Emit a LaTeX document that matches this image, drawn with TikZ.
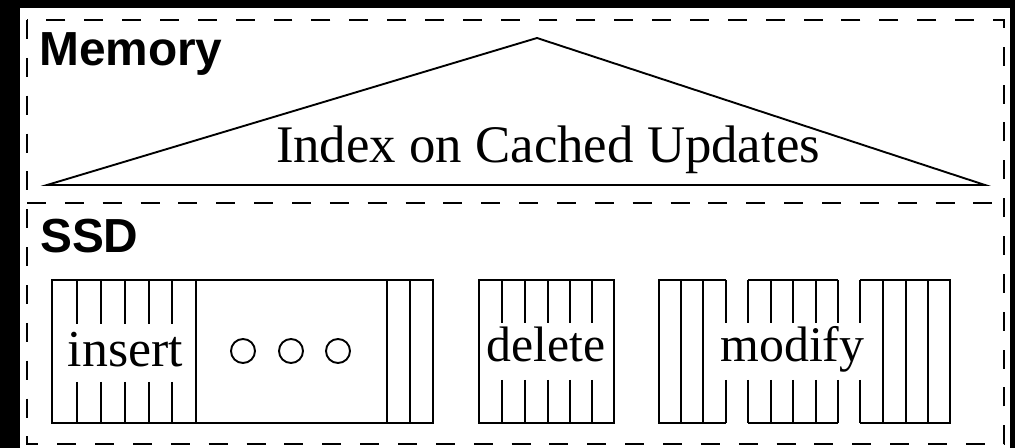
\documentclass[tikz,border=0pt]{standalone}
\usepackage{fontspec}
\setmainfont{Liberation Serif}
\setsansfont{Liberation Sans}
\begin{document}
\begin{tikzpicture}[x=1bp,y=-1bp,
  frameline/.style={line width=2pt,dash pattern=on 19pt off 19pt},
  boxline/.style={line width=1.9pt},
  regionlabel/.style={inner sep=0pt,anchor=base west,font=\sffamily\bfseries\fontsize{48}{50}\selectfont},
  oplabel/.style={inner sep=0pt,anchor=base,font=\fontsize{50}{54}\selectfont},
  dot/.style={circle,draw,line width=1.9pt,minimum size=24bp,inner sep=0pt}]

% canvas
\useasboundingbox (0,0) rectangle (1015,448);
\fill[black] (-5,-5) rectangle (1020,455);
\fill[white] (20,8) rectangle (1010,455);

% dashed frame split into memory and SSD parts
\draw[frameline] (27,20) rectangle (1004,444);
\draw[frameline] (27,203) -- (1004,203);

% region labels
\node[regionlabel] (mem) at (39,66) {Memory};
\node[regionlabel] (ssd) at (40,253) {SSD};

% index triangle
\coordinate (apex) at (537,38);
\coordinate (bl) at (47,185);
\coordinate (br) at (985,185);
\draw[boxline,line join=miter] (bl) -- (apex) -- (br) -- cycle;
\node[inner sep=0pt,anchor=base,font=\fontsize{53}{56}\selectfont] (idx) at (548,163) {Index on Cached Updates};

% insert run with elided middle
\draw[boxline] (52,280) rectangle (433,423);
\foreach \x in {77,101,125,149,172} {
  \draw[boxline] (\x,280) -- (\x,324);
  \draw[boxline] (\x,382) -- (\x,423);
}
\foreach \x in {196,387,410} \draw[boxline] (\x,280) -- (\x,423);
\node[oplabel,font=\fontsize{52}{56}\selectfont] (ins) at (125.5,367) {insert};
\node[dot] (d1) at (243,351) {};
\node[dot] (d2) at (291,351) {};
\node[dot] (d3) at (338,351) {};

% delete run
\draw[boxline] (479,280) rectangle (614,423);
\foreach \x in {502,525,548,570,592} {
  \draw[boxline] (\x,280) -- (\x,323);
  \draw[boxline] (\x,380) -- (\x,423);
}
\node[oplabel] (del) at (546,362) {delete};

% modify run: three pieces
\draw[boxline] (726,280) -- (659,280) -- (659,423) -- (726,423);
\foreach \x in {681,703} \draw[boxline] (\x,280) -- (\x,423);
\draw[boxline] (748,280) -- (838,280);
\draw[boxline] (748,423) -- (838,423);
\draw[boxline] (860,280) -- (950,280) -- (950,423) -- (860,423);
\foreach \x in {883,906,928} \draw[boxline] (\x,280) -- (\x,423);
\foreach \x in {726,748,771,793,816,838,860} {
  \draw[boxline] (\x,280) -- (\x,323);
  \draw[boxline] (\x,380) -- (\x,423);
}
\node[oplabel] (mod) at (792.5,362) {modify};
\end{tikzpicture}
\end{document}
